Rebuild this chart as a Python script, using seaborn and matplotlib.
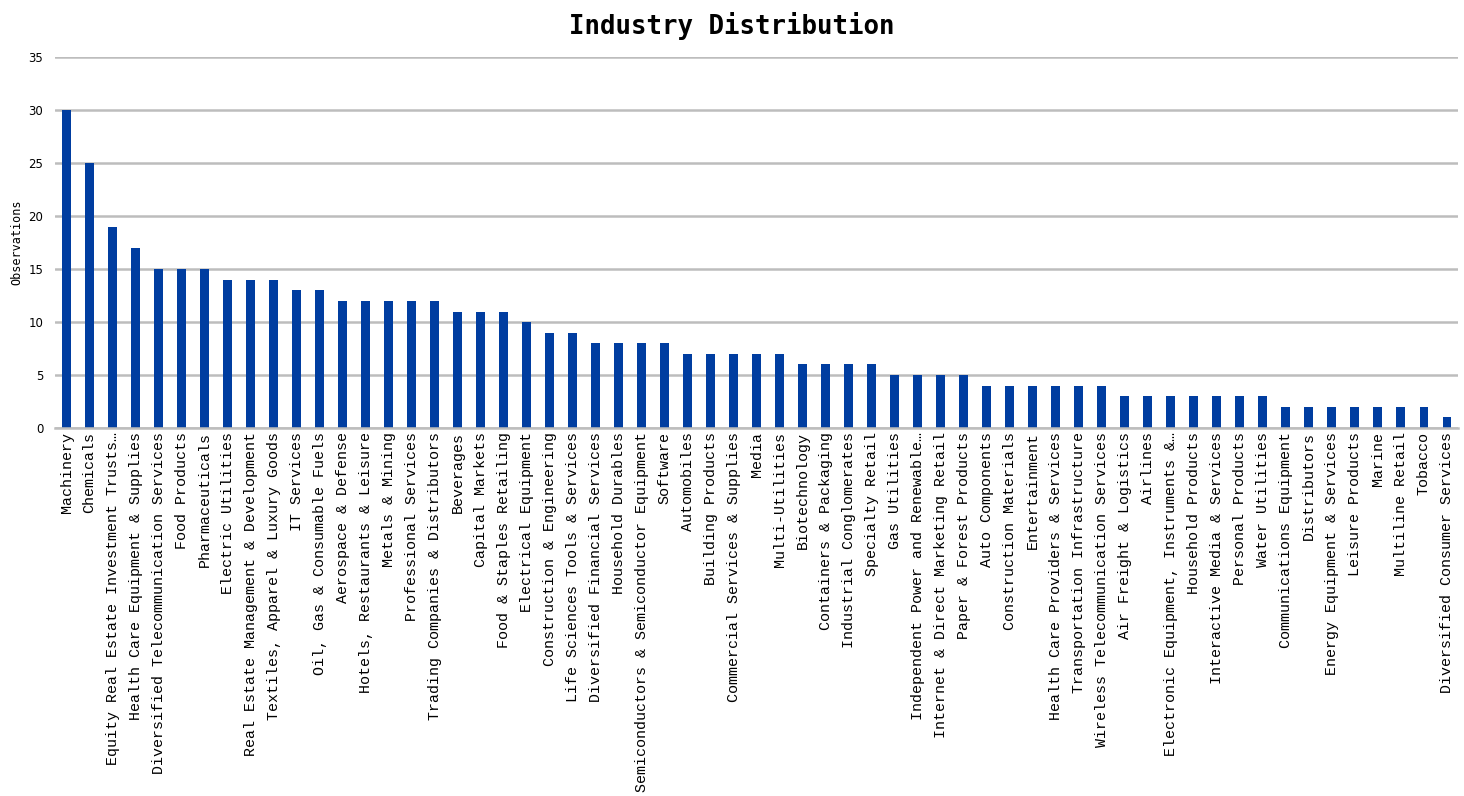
import matplotlib
matplotlib.use("Agg")
import matplotlib.pyplot as plt
import seaborn as sns
import pandas as pd

industries = [
    "Machinery", "Chemicals", "Equity Real Estate Investment Trusts…",
    "Health Care Equipment & Supplies", "Diversified Telecommunication Services",
    "Food Products", "Pharmaceuticals", "Electric Utilities",
    "Real Estate Management & Development", "Textiles, Apparel & Luxury Goods",
    "IT Services", "Oil, Gas & Consumable Fuels", "Aerospace & Defense",
    "Hotels, Restaurants & Leisure", "Metals & Mining", "Professional Services",
    "Trading Companies & Distributors", "Beverages", "Capital Markets",
    "Food & Staples Retailing", "Electrical Equipment", "Construction & Engineering",
    "Life Sciences Tools & Services", "Diversified Financial Services",
    "Household Durables", "Semiconductors & Semiconductor Equipment", "Software",
    "Automobiles", "Building Products", "Commercial Services & Supplies", "Media",
    "Multi-Utilities", "Biotechnology", "Containers & Packaging",
    "Industrial Conglomerates", "Specialty Retail", "Gas Utilities",
    "Independent Power and Renewable…", "Internet & Direct Marketing Retail",
    "Paper & Forest Products", "Auto Components", "Construction Materials",
    "Entertainment", "Health Care Providers & Services",
    "Transportation Infrastructure", "Wireless Telecommunication Services",
    "Air Freight & Logistics", "Airlines", "Electronic Equipment, Instruments &…",
    "Household Products", "Interactive Media & Services", "Personal Products",
    "Water Utilities", "Communications Equipment", "Distributors",
    "Energy Equipment & Services", "Leisure Products", "Marine", "Multiline Retail",
    "Tobacco", "Diversified Consumer Services",
]
observations = [
    30, 25, 19, 17, 15, 15, 15, 14, 14, 14,
    13, 13, 12, 12, 12, 12, 12, 11, 11, 11,
    10, 9, 9, 8, 8, 8, 8, 7, 7, 7,
    7, 7, 6, 6, 6, 6, 5, 5, 5, 5,
    4, 4, 4, 4, 4, 4, 3, 3, 3, 3,
    3, 3, 3, 2, 2, 2, 2, 2, 2, 2,
    1,
]
y_ticks = [0, 5, 10, 15, 20, 25, 30, 35]

df = pd.DataFrame({"Industry": industries, "Observations": observations})

sns.set_theme(style="white")
plt.rcParams["font.family"] = ["Liberation Mono", "DejaVu Sans Mono"]
plt.rcParams["text.color"] = "black"
plt.rcParams["xtick.color"] = "black"
plt.rcParams["ytick.color"] = "black"

fig = plt.figure(figsize=(14.64, 7.96), dpi=100)
ax = fig.add_axes([0.0376, 0.4623, 0.9584, 0.4657])

sns.barplot(data=df, x="Industry", y="Observations", color="#003DA0",
            saturation=1, width=0.36, linewidth=0, ax=ax)

ax.set_ylim(0, 35)
ax.set_xlim(-0.5, len(industries) - 0.5)
ax.set_yticks(y_ticks)
ax.set_yticklabels([str(t) for t in y_ticks], fontsize=8.5,
                   family=["DejaVu Sans", "Liberation Sans"])
ax.yaxis.grid(True, color="#BDBDBD", linewidth=1.8)
ax.set_axisbelow(True)
ax.tick_params(axis="y", length=0, pad=8.5)
ax.tick_params(axis="x", length=0, pad=3)
ax.set_xticks(range(len(industries)))
ax.set_xticklabels(industries, rotation=90, fontsize=10.8)
for side in ["left", "right", "top"]:
    ax.spines[side].set_visible(False)
ax.spines["bottom"].set_color("#BDBDBD")
ax.spines["bottom"].set_linewidth(1.8)

ax.set_xlabel("")
ax.set_ylabel("")
fig.text(0.0116, 0.696, "Observations", rotation=90, ha="center", va="center",
         fontsize=8.5, family=["DejaVu Sans Mono"])
fig.suptitle("Industry Distribution", fontsize=18.5, fontweight="bold",
             x=0.5, y=0.985, family=["DejaVu Sans Mono"])

fig.savefig("out.png", dpi=100, facecolor="white")
